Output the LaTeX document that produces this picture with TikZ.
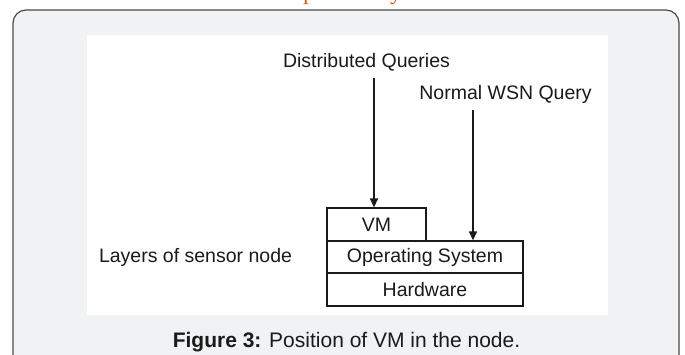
\documentclass[tikz,border=0pt]{standalone}
\usepackage{fontspec}
\setmainfont{Liberation Sans}
\newfontfamily\titlefont{Liberation Serif}
\usetikzlibrary{arrows.meta}
\definecolor{framefill}{HTML}{F1F2F4}
\definecolor{frameline}{HTML}{4A4A4A}
\definecolor{titlered}{HTML}{D9582E}
\definecolor{inkc}{HTML}{1A1A1A}
\tikzset{
  layerbox/.style={draw=inkc, line width=1.3pt, fill=white, inner sep=0pt, font=\fontsize{19.5}{22}\selectfont, text=inkc},
  lbl/.style={inner sep=0pt, font=\fontsize{19.5}{22}\selectfont, text=inkc, anchor=base},
  arr/.style={draw=inkc, line width=1.3pt, -{Triangle[length=9pt,width=8pt]}},
  titleglyph/.style={anchor=base, inner sep=0pt, text=titlered, font=\titlefont\fontsize{24}{26}\selectfont}
}
\begin{document}
\begin{tikzpicture}[x=1pt,y=-1pt]
\useasboundingbox (0,0) rectangle (685,354);
\begin{scope}
\clip (0,0) rectangle (685,354);
% partially visible title glyphs (cut off at the top edge)
\node[titleglyph] (tp) at (309,-0.5) {p};
\node[titleglyph] (ty) at (396,-0.5) {y};
% outer frame
\draw[frameline, line width=1.2pt, fill=framefill, rounded corners=13pt] (13,10) rectangle (679,380);
\end{scope}
% white panel
\fill[white] (87,35) rectangle (608,315);
% layers
\node[layerbox, minimum width=99pt, minimum height=33pt] (vm) at (376.5,224.5) {VM};
\node[layerbox, minimum width=196pt, minimum height=32pt] (os) at (425,257) {Operating System};
\node[layerbox, minimum width=196pt, minimum height=33pt] (hw) at (425,289.5) {Hardware};
% labels
\node[lbl] (dq) at (366.5,67) {Distributed Queries};
\node[lbl] (nq) at (505.5,99) {Normal WSN Query};
\node[lbl] (ls) at (195.5,262) {Layers of sensor node};
% arrows
\coordinate (a1) at (374,78);
\coordinate (a2) at (473,110);
\draw[arr] (a1) -- (a1 |- vm.north);
\draw[arr] (a2) -- (a2 |- os.north);
% caption
\node[anchor=base, inner sep=0pt, text=inkc, font=\fontsize{21}{24}\selectfont] (cap) at (346.5,347) {\textbf{Figure 3:} Position of VM in the node.};
\end{tikzpicture}
\end{document}
